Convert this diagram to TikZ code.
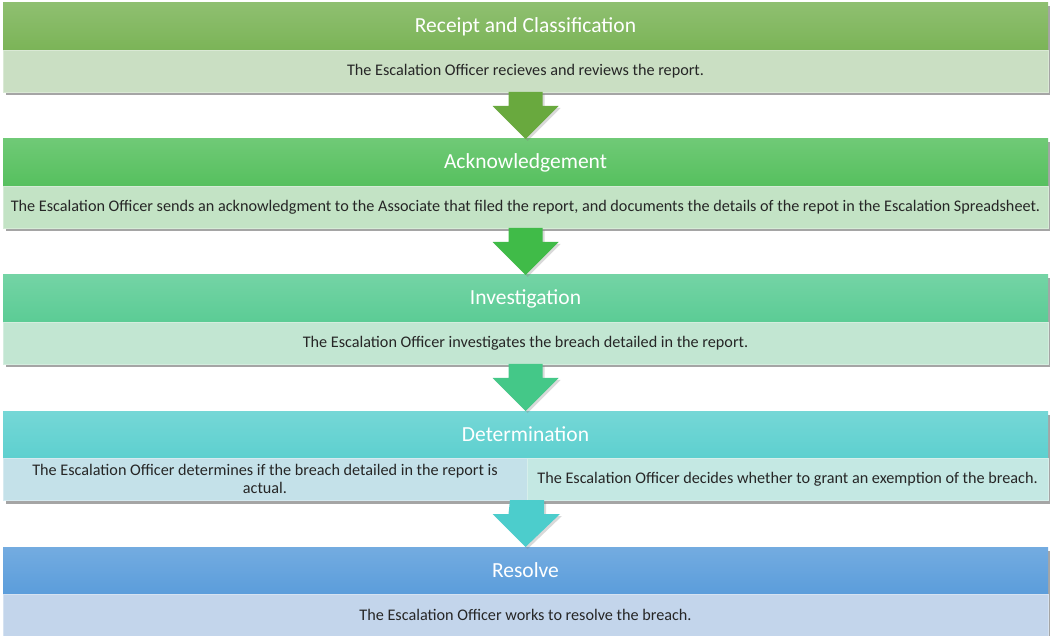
\documentclass[tikz,border=0pt]{standalone}
\usepackage{fontspec}
\setmainfont{Carlito}
\usetikzlibrary{positioning,calc,shadows}

\definecolor{hdrA}{HTML}{7BB457}
\definecolor{hdrB}{HTML}{56C05E}
\definecolor{hdrC}{HTML}{5BCC95}
\definecolor{hdrD}{HTML}{5DD0CF}
\definecolor{hdrE}{HTML}{5B9DDB}
\definecolor{bodA}{HTML}{CADFC3}
\definecolor{bodB}{HTML}{C3E3C5}
\definecolor{bodC}{HTML}{C2E6D2}
\definecolor{bodDl}{HTML}{C4E1E9}
\definecolor{bodDr}{HTML}{C4E8E3}
\definecolor{bodE}{HTML}{C3D5EB}
\definecolor{arrA}{HTML}{69A93E}
\definecolor{arrB}{HTML}{40BB48}
\definecolor{arrC}{HTML}{44C888}
\definecolor{arrD}{HTML}{4CCDCC}

\begin{document}
\begin{tikzpicture}[x=1pt, y=-1pt, node distance=47pt,
    stage/.style={drop shadow={opacity=0.5, fill=black!70, shadow xshift=2.5pt, shadow yshift=-3.5pt}},
    header/.style={stage, rectangle, minimum width=1045pt, minimum height=47pt, inner sep=0pt, outer sep=0pt,
        text=white, font=\fontsize{21.5}{25}\selectfont,
        top color=#1!85!white, bottom color=#1},
    body/.style={stage, rectangle, fill=#1, draw=#1!70!white, line width=0.6pt, minimum width=1045pt,
        minimum height=42pt, inner sep=0pt, outer sep=0pt, align=center,
        text=black!85, font=\fontsize{16.2}{18.5}\selectfont},
    blockarrow/.style={fill=#1, drop shadow={opacity=0.3, shadow xshift=2pt, shadow yshift=-2pt}}]

    \useasboundingbox (0,0) rectangle (1050,636);

    % Receipt and Classification
    \node[header=hdrA, anchor=north west] (recvH) at (3,3) {Receipt and Classification};
    \node[body=bodA, below=0pt of recvH] (recvB) {The Escalation Officer recieves and reviews the report.};

    % Acknowledgement
    \node[header=hdrB, below=of recvB] (ackH) {Acknowledgement};
    \node[body=bodB, below=0pt of ackH] (ackB) {The Escalation Officer sends an acknowledgment to the Associate that filed the report, and documents the details of the repot in the Escalation Spreadsheet.};

    % Investigation
    \node[header=hdrC, below=of ackB] (invH) {Investigation};
    \node[body=bodC, below=0pt of invH] (invB) {The Escalation Officer investigates the breach detailed in the report.};

    % Determination
    \node[header=hdrD, below=of invB] (detH) {Determination};
    \node[body=bodDl, minimum width=524pt, anchor=north west] (detL) at (detH.south west) {The Escalation Officer determines if the breach detailed in the report is\\actual.};
    \node[body=bodDr, minimum width=521pt, anchor=north west] (detR) at (detL.north east) {The Escalation Officer decides whether to grant an exemption of the breach.};

    % Resolve
    \node[header=hdrE, below=of detH.south, yshift=-42pt, anchor=north] (resH) {Resolve};
    \node[body=bodE, below=0pt of resH] (resB) {The Escalation Officer works to resolve the breach.};

    % block arrows between the stages
    \fill[blockarrow=arrA] ($(recvB.south)+(-17,0)$) -- ++(34,0) -- ++(0,14) -- ++(16,0) -- (ackH.north) -- ++(-33,-33) -- ++(16,0) -- cycle;
    \fill[blockarrow=arrB] ($(ackB.south)+(-17,0)$) -- ++(34,0) -- ++(0,14) -- ++(16,0) -- (invH.north) -- ++(-33,-33) -- ++(16,0) -- cycle;
    \fill[blockarrow=arrC] ($(invB.south)+(-17,0)$) -- ++(34,0) -- ++(0,14) -- ++(16,0) -- (detH.north) -- ++(-33,-33) -- ++(16,0) -- cycle;
    \fill[blockarrow=arrD] ($(detL.south east)+(-17,0)$) -- ++(34,0) -- ++(0,14) -- ++(16,0) -- (resH.north) -- ++(-33,-33) -- ++(16,0) -- cycle;
\end{tikzpicture}
\end{document}
